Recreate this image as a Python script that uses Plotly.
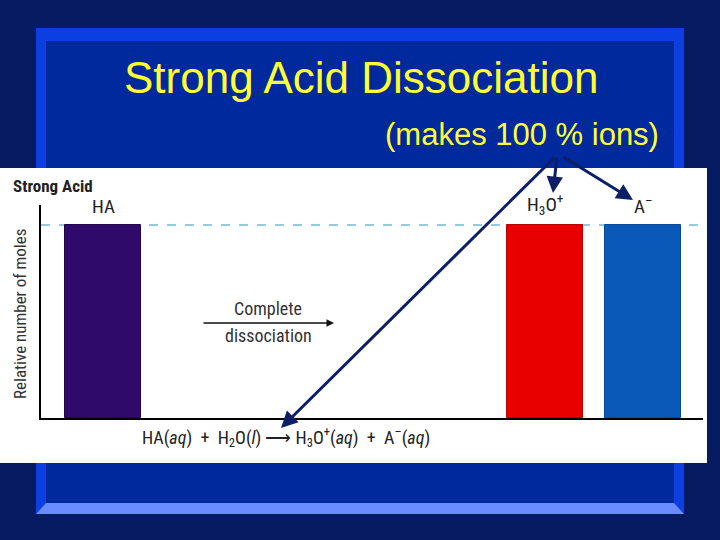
import plotly.graph_objects as go

# ---- data ----
species = ["HA", "H<sub>3</sub>O<sup>+</sup>", "A<sup>\u2013</sup>"]
moles = [1.0, 1.0, 1.0]
slot = [0, 4.5, 5.5]
bar_colors = ["#2f0a6a", "#e80000", "#0a58b8"]
edge_colors = ["#24064f", "#b80000", "#074a9a"]

title_text = "Strong Acid Dissociation"
subtitle_text = "(makes 100 % ions)"
panel_label = "Strong Acid"
y_title = "Relative number of moles"
arrow_text = ["Complete", "dissociation"]
SP = "\u00a0"
equation = ("HA(<i>aq</i>)" + SP * 2 + "+" + SP * 2 + "H<sub>2</sub>O(<i>l</i>)" + SP + "\u27f6" + SP
            + "H<sub>3</sub>O<sup>+</sup>(<i>aq</i>)" + SP * 2 + "+" + SP * 2 + "A<sup>\u2013</sup>(<i>aq</i>)")

# ---- pixel geometry of plot area ----
W, H = 720, 540
L, R, T, B = 41, 703, 205, 418


def px(x):
    return (x - L) / (R - L)


def py(y):
    return (B - y) / (B - T)


SLIDE_FONT = "Liberation Sans, Arial, sans-serif"
CHART_FONT = "Liberation Sans Narrow, Arial Narrow, Roboto Condensed, Liberation Sans, sans-serif"
NAVY = "#0c1f66"

fig = go.Figure()
fig.add_trace(go.Bar(
    x=slot, y=moles, width=0.774,
    marker=dict(color=bar_colors, line=dict(color=edge_colors, width=1)),
    hoverinfo="skip", showlegend=False,
))

shapes = []
# slide frame
shapes.append(dict(type="rect", xref="paper", yref="paper", layer="below",
                   x0=px(36), x1=px(684), y0=py(514), y1=py(28),
                   fillcolor="#0b3fe2", line=dict(width=0)))
shapes.append(dict(type="path", xref="paper", yref="paper", layer="below",
                   path=f"M {px(36)} {py(514)} L {px(684)} {py(514)} L {px(674)} {py(503)} L {px(46)} {py(503)} Z",
                   fillcolor="#6a8cff", line=dict(width=0)))
shapes.append(dict(type="rect", xref="paper", yref="paper", layer="below",
                   x0=px(46), x1=px(674), y0=py(503), y1=py(41),
                   fillcolor="#00299e", line=dict(width=0)))
# white picture panel
shapes.append(dict(type="rect", xref="paper", yref="paper", layer="below",
                   x0=px(0), x1=px(707), y0=py(463), y1=py(168),
                   fillcolor="white", line=dict(width=0)))
# dashed reference level
xr = [-0.632, 6.111]
shapes.append(dict(type="line", xref="x", yref="y", layer="below",
                   x0=xr[0], x1=xr[1], y0=max(moles), y1=max(moles),
                   line=dict(color="#2f95c2", width=1.2, dash="dash")))

ann = []
ann.append(dict(xref="paper", yref="paper", x=px(361), y=py(77), text=title_text,
                showarrow=False, font=dict(family=SLIDE_FONT, size=44, color="#ffff33"),
                xanchor="center", yanchor="middle"))
ann.append(dict(xref="paper", yref="paper", x=px(522), y=py(134), text=subtitle_text,
                showarrow=False, font=dict(family=SLIDE_FONT, size=31, color="#ffff33"),
                xanchor="center", yanchor="middle"))
ann.append(dict(xref="paper", yref="paper", x=px(11), y=py(186), text="<b>" + panel_label + "</b>",
                showarrow=False, font=dict(family=CHART_FONT, size=17, color="#222222"),
                xanchor="left", yanchor="middle"))
ann.append(dict(xref="paper", yref="paper", x=px(20), y=py(314), text=y_title, textangle=-90,
                showarrow=False, font=dict(family=CHART_FONT, size=17, color="#333333"),
                xanchor="center", yanchor="middle"))
for xi, yi, lab in zip(slot, moles, species):
    ann.append(dict(xref="x", yref="y", x=xi, y=yi, text=lab, showarrow=False,
                    yanchor="bottom", yshift=5,
                    font=dict(family=CHART_FONT, size=19, color="#222222")))
ann.append(dict(xref="paper", yref="paper", x=px(268), y=py(308), text=arrow_text[0],
                showarrow=False, font=dict(family=CHART_FONT, size=18, color="#333333")))
ann.append(dict(xref="paper", yref="paper", x=px(268), y=py(335), text=arrow_text[1],
                showarrow=False, font=dict(family=CHART_FONT, size=18, color="#333333")))
ann.append(dict(xref="paper", yref="paper", x=px(334), y=py(323), ax=-132, ay=0, text="",
                showarrow=True, arrowhead=2, arrowsize=1, arrowwidth=1.5, arrowcolor="#111111"))
ann.append(dict(xref="paper", yref="paper", x=px(286), y=py(452), text=equation,
                showarrow=False, font=dict(family=CHART_FONT, size=18, color="#222222")))
# navy pointer arrows
for hx, hy, tx, ty in [(553, 193, 557, 156), (633, 200, 562, 156), (281, 428, 556, 156)]:
    ann.append(dict(xref="paper", yref="paper", x=px(hx), y=py(hy), ax=tx - hx, ay=ty - hy,
                    text="", showarrow=True, arrowhead=2, arrowsize=1.1, arrowwidth=3,
                    arrowcolor=NAVY))

fig.update_layout(
    width=W, height=H,
    margin=dict(l=L, r=W - R, t=T, b=H - B, pad=0),
    paper_bgcolor="#061b62", plot_bgcolor="white",
    shapes=shapes, annotations=ann,
    xaxis=dict(range=xr, showticklabels=False, showgrid=False, zeroline=False,
               showline=True, linecolor="black", linewidth=2, ticks="", fixedrange=True),
    yaxis=dict(range=[0, 1.1036], showticklabels=False, showgrid=False, zeroline=False,
               showline=True, linecolor="black", linewidth=2, ticks="", fixedrange=True),
    bargap=0,
)

fig.write_html("out.html", config={"displayModeBar": False},
               post_script="document.body.style.margin='0';document.body.style.background='#061b62';")
